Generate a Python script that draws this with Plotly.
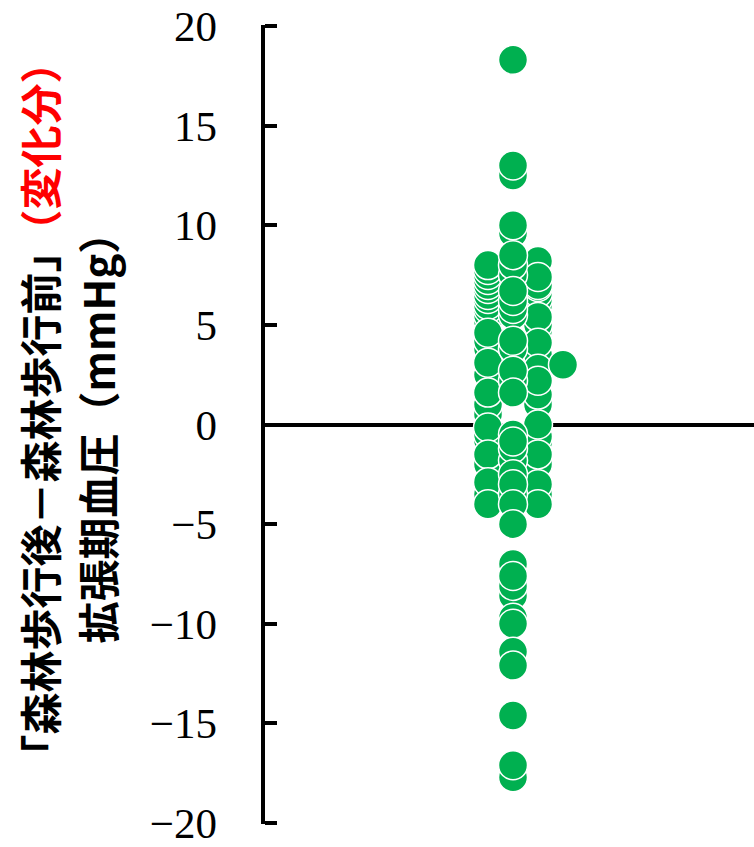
import plotly.graph_objects as go

# Change in diastolic blood pressure (after forest walk - before forest walk), mmHg.
# Values are grouped into the beeswarm lanes they occupy; listed in drawing order.
left_lane = [5.2, 5.5, 5.8, 6.0, 6.3, 6.5, 6.8, 7.0, 7.25, 7.5, 7.75, 8.0,
             3.8, 4.2, 4.6, 2.5, 3.1, 0.5, 1.0, 1.6, -0.8, -0.5, -0.15,
             -2.0, -1.5, -3.5, -2.9, -4.0]
right_lane = [8.2, 5.8, 6.0, 6.3, 6.6, 6.9, 7.0, 7.4, 4.7, 5.0, 5.4, 3.5, 4.1,
              1.0, 1.5, 2.8, 2.2, -0.9, -0.6, 0.0, -2.0, -1.5, -3.5, -3.0, -4.0]
center_lane = [18.3, 12.5, 13.0, 9.6, 10.0, 7.5, 8.0, 8.5, 5.5, 5.8, 6.2, 6.7,
               3.8, 4.2, 2.2, 2.7, 1.6, -1.8, -1.2, -0.5, -0.85, -3.5, -2.5,
               -3.0, -4.0, -5.0, -7.0, -8.6, -8.1, -7.6, -9.7, -10.0, -11.4,
               -12.1, -14.6, -17.7, -17.1]
outer_lane = [3.0]

# (lane position, values, y axis the lane is drawn on)
lanes = [(-1, left_lane, "y"), (1, right_lane, "y"),
         (0, center_lane, "y2"), (2, outer_lane, "y2")]

y_ticks = [-20, -15, -10, -5, 0, 5, 10, 15, 20]
y_range = [-20.05, 20.05]

title_line1 = "「森林歩行後－森林歩行前」<span style='color:#FF0000'>（変化分）</span>"
title_line2 = "拡張期血圧（mmHg）"

GREEN = "#00B050"
W, H = 754, 847
ML = 217          # left margin: tick labels sit just left of this
AXIS_PX = 263     # pixel position of the drawn y axis line
PLOT_W = W - ML

def paper_x(px):
    return (px - ML) / PLOT_W

fig = go.Figure()
for lane_x, vals, yax in lanes:
    fig.add_trace(go.Scatter(
        x=[lane_x] * len(vals),
        y=vals,
        yaxis=yax,
        mode="markers",
        marker=dict(size=29, color=GREEN, line=dict(color="white", width=1.5)),
        hoverinfo="y",
        showlegend=False,
        cliponaxis=False,
    ))

fig.update_layout(
    width=W,
    height=H,
    margin=dict(l=ML, r=0, t=25, b=18),
    paper_bgcolor="white",
    plot_bgcolor="white",
    xaxis=dict(visible=False, range=[-10, 9.64], domain=[paper_x(AXIS_PX), 1],
               fixedrange=True),
    # tick labels and the zero line
    yaxis=dict(
        range=y_range,
        tickvals=y_ticks,
        anchor="free",
        position=0,
        side="left",
        showline=False,
        showgrid=False,
        ticks="",
        ticklabeloverflow="allow",
        tickfont=dict(family="Liberation Serif", size=43, color="black"),
        zeroline=True,
        zerolinecolor="black",
        zerolinewidth=4,
        fixedrange=True,
    ),
    # the vertical axis line with its ticks pointing into the plot
    yaxis2=dict(
        range=y_range,
        tickvals=y_ticks,
        overlaying="y",
        anchor="free",
        position=paper_x(AXIS_PX),
        side="right",
        showticklabels=False,
        showgrid=False,
        zeroline=False,
        showline=True,
        linecolor="black",
        linewidth=4,
        ticks="outside",
        ticklen=12,
        tickwidth=4,
        tickcolor="black",
        fixedrange=True,
    ),
)

fig.add_annotation(
    text=title_line1, textangle=-90, showarrow=False,
    xref="paper", yref="paper", x=paper_x(39), y=(829 - 412) / 804,
    xanchor="center", yanchor="middle",
    font=dict(family="Noto Sans CJK JP", size=42, color="black", weight="bold"),
)
fig.add_annotation(
    text=title_line2, textangle=-90, showarrow=False,
    xref="paper", yref="paper", x=paper_x(96), y=(829 - 430) / 804,
    xanchor="center", yanchor="middle",
    font=dict(family="Noto Sans CJK JP", size=42, color="black", weight="bold"),
)

fig.write_html("out.html")
